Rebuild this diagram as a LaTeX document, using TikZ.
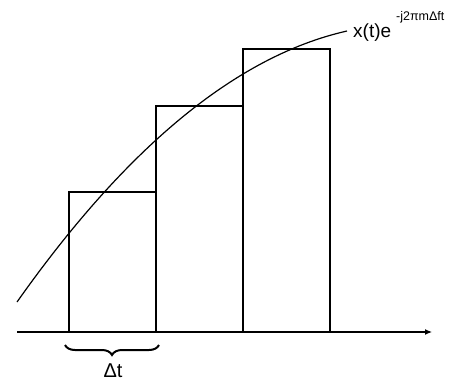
\documentclass[tikz,border=0pt]{standalone}
\usepackage{fontspec}
\setmainfont{Liberation Sans}
\usetikzlibrary{decorations.pathreplacing,arrows.meta}
\begin{document}
\begin{tikzpicture}[x=1pt,y=-1pt,
  bar/.style={draw=black,line width=1.2pt},
  axis/.style={line width=1.2pt,-{Latex[length=7pt,width=6pt]}},
  lbl/.style={inner sep=0pt,font=\fontsize{19}{21}\selectfont}]
\useasboundingbox (0,0) rectangle (454,381);
\draw[axis] (17,332) coordinate (o) -- (432,332) coordinate (xe);
\draw[bar] (69,332) rectangle (156,192);
\draw[bar] (156,332) rectangle (243,106);
\draw[bar] (243,332) rectangle (330,49);
\draw[line width=1.2pt] (17,302) coordinate (cs) .. controls (127,146.3) and (237,55.9) .. (347,31) coordinate (ce);
\node[lbl,anchor=base west] (xt) at (353,37.5) {x(t)e\hspace{5pt}\raisebox{17.5pt}{\fontsize{12.5}{14}\selectfont -j2πmΔft}};
\draw[decorate,decoration={brace,amplitude=10pt,mirror},line width=2pt] (65,345) coordinate (b1) -- (159,345) coordinate (b2);
\node[lbl,font=\fontsize{20}{22}\selectfont] (dt) at (113,371) {Δt};
\end{tikzpicture}
\end{document}
